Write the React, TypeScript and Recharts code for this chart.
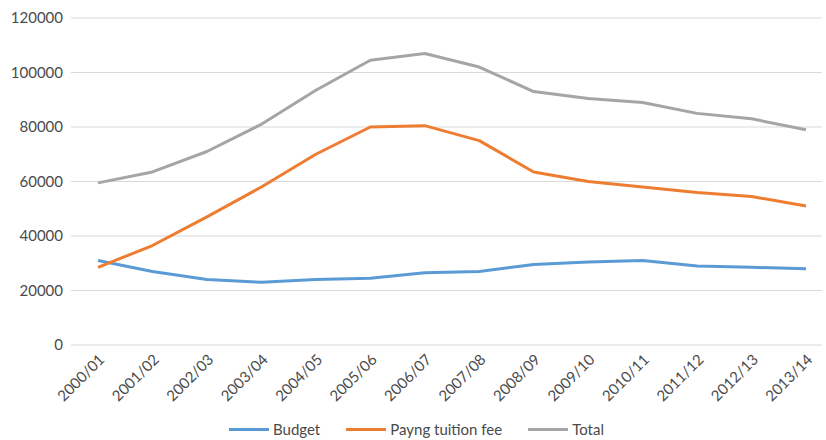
import React from 'react';
import {
  LineChart,
  Line,
  XAxis,
  YAxis,
  CartesianGrid,
  Legend,
} from 'recharts';

const years = [
  '2000/01', '2001/02', '2002/03', '2003/04', '2004/05', '2005/06', '2006/07',
  '2007/08', '2008/09', '2009/10', '2010/11', '2011/12', '2012/13', '2013/14',
];

const budget = [31000, 27000, 24000, 23000, 24000, 24500, 26500, 27000, 29500, 30500, 31000, 29000, 28500, 28000];
const paying = [28500, 36500, 47000, 58000, 70000, 80000, 80500, 75000, 63500, 60000, 58000, 56000, 54500, 51000];
const total = [59500, 63500, 71000, 81000, 93500, 104500, 107000, 102000, 93000, 90500, 89000, 85000, 83000, 79000];

const yTicks = [0, 20000, 40000, 60000, 80000, 100000, 120000];

const series = [
  { key: 'budget', name: 'Budget', color: '#5B9BD5' },
  { key: 'paying', name: 'Payng tuition fee', color: '#ED7D31' },
  { key: 'total', name: 'Total', color: '#A5A5A5' },
];

const data = years.map((year, i) => ({
  year,
  budget: budget[i],
  paying: paying[i],
  total: total[i],
}));

const FONT = 'Lato, "Open Sans", sans-serif';
const TEXT = '#4a4a4a';

// Excel-style legend: long flat line swatch followed by the label
const LegendContent = () => (
  <div
    style={{
      display: 'flex',
      alignItems: 'center',
      paddingLeft: 229,
      height: 22,
      fontFamily: FONT,
      fontSize: 15,
      color: TEXT,
    }}
  >
    {series.map((s) => (
      <div key={s.key} style={{ display: 'flex', alignItems: 'center', marginRight: 26 }}>
        <span
          style={{
            display: 'inline-block',
            width: 40,
            height: 3,
            background: s.color,
            marginRight: 4,
          }}
        />
        <span>{s.name}</span>
      </div>
    ))}
  </div>
);

export default function App() {
  return (
    <div style={{ position: 'absolute', left: 0, top: 0, width: 826, height: 440, background: '#fff' }}>
      <LineChart
        width={826}
        height={440}
        data={data}
        margin={{ top: 18, right: 4, left: 0, bottom: 0 }}
        style={{ fontFamily: FONT }}
      >
        <CartesianGrid stroke="#D9D9D9" horizontal vertical={false} />
        <XAxis
          dataKey="year"
          scale="point"
          padding={{ left: 27, right: 16 }}
          axisLine={false}
          tickLine={false}
          interval={0}
          angle={-45}
          textAnchor="end"
          height={73}
          tick={{ fill: TEXT, fontSize: 15, fontFamily: FONT }}
        />
        <YAxis
          domain={[0, 120000]}
          ticks={yTicks}
          axisLine={false}
          tickLine={false}
          width={71}
          tick={{ fill: TEXT, fontSize: 15, fontFamily: FONT }}
        />
        <Legend verticalAlign="bottom" height={22} content={<LegendContent />} />
        {series.map((s) => (
          <Line
            key={s.key}
            type="linear"
            dataKey={s.key}
            name={s.name}
            stroke={s.color}
            strokeWidth={3}
            strokeLinejoin="round"
            dot={false}
            isAnimationActive={false}
          />
        ))}
      </LineChart>
    </div>
  );
}
